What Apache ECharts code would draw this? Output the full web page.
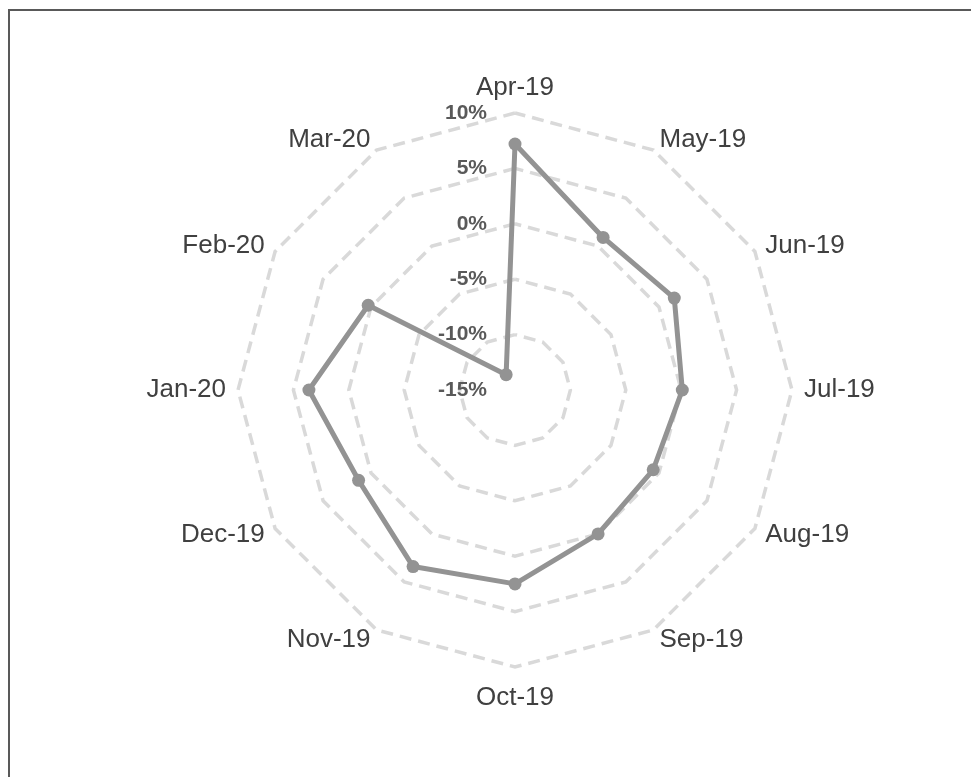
<!DOCTYPE html>
<html>
<head>
<meta charset="utf-8">
<script src="https://cdn.jsdelivr.net/npm/echarts@6/dist/echarts.min.js"></script>
<style>
html,body{margin:0;padding:0;background:#fff;}
#frame{position:absolute;left:8px;top:9px;width:1000px;height:800px;border-left:2px solid #595959;border-top:2px solid #595959;box-sizing:border-box;}
#chart{position:absolute;left:0;top:0;width:971px;height:777px;}
</style>
</head>
<body>
<div id="frame"></div>
<div id="chart"></div>
<script>
// Data (clockwise from top)
var categories = ['Apr-19','May-19','Jun-19','Jul-19','Aug-19','Sep-19','Oct-19','Nov-19','Dec-19','Jan-20','Feb-20','Mar-20'];
var values = [7.2, 0.9, 1.6, 0.1, -0.6, 0.0, 2.5, 3.4, 1.3, 3.6, 0.3, -13.4];
var tickLabels = ['-15%','-10%','-5%','0%','5%','10%'];
var axisMin = -15, axisMax = 10;

// ECharts radar lays indicators out counter-clockwise: reorder so the chart reads clockwise
var order = [0];
for (var i = categories.length - 1; i >= 1; i--) order.push(i);

var indicator = order.map(function (idx, k) {
  var ind = { name: categories[idx], min: axisMin, max: axisMax };
  if (k === 0) {
    ind.axisLabel = {
      show: true,
      color: '#595959',
      fontWeight: 'bold',
      fontSize: 21,
      fontFamily: 'Liberation Sans, Arial, sans-serif',
      margin: 28,
      padding: [12, 0, 0, 0],
      formatter: function (v) {
        var idxT = Math.round((v - axisMin) / 5);
        return tickLabels[idxT] !== undefined ? tickLabels[idxT] : '';
      }
    };
  }
  return ind;
});
var seriesData = order.map(function (idx) { return values[idx]; });

var chart = echarts.init(document.getElementById('chart'));
chart.setOption({
  animation: false,
  radar: {
    center: [515, 390],
    radius: 277,
    shape: 'polygon',
    splitNumber: 5,
    startAngle: 90,
    indicator: indicator,
    axisName: {
      color: '#404040',
      fontSize: 26,
      fontFamily: 'Liberation Sans, Arial, sans-serif',
      padding: [6, 0, 0, 0]
    },
    nameGap: 12,
    axisLine: { show: false },
    axisTick: { show: false },
    axisLabel: { show: false },
    splitArea: { show: false },
    splitLine: {
      lineStyle: { color: '#d9d9d9', width: 3.5, type: [12, 7] }
    }
  },
  series: [{
    type: 'radar',
    symbol: 'circle',
    symbolSize: 13,
    lineStyle: { color: '#939393', width: 5 },
    itemStyle: { color: '#939393' },
    data: [{ value: seriesData, name: 'Series' }]
  }]
});
</script>
</body>
</html>
